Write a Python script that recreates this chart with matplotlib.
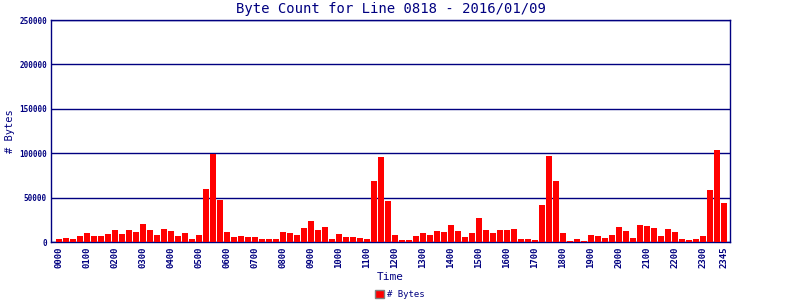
import matplotlib
matplotlib.use("Agg")
import matplotlib.pyplot as plt
from matplotlib.patches import Patch

times = [f"{h:02d}{m:02d}" for h in range(24) for m in (0, 15, 30, 45)]
byte_counts = [
    3300, 4400, 3300, 6700, 10000, 6700, 6700, 8900, 13300, 8900,
    13300, 11100, 20000, 13300, 7800, 14400, 12200, 6700, 10000, 3300,
    7800, 60000, 99000, 47800, 11100, 5600, 6700, 5600, 5600, 3300,
    3300, 3300, 11100, 10000, 7800, 15500, 23300, 13300, 16700, 3300,
    8900, 5600, 5600, 4400, 3300, 68800, 95500, 46700, 7800, 2200,
    2200, 6700, 10000, 7800, 12200, 11100, 18900, 12200, 5600, 10000,
    26600, 13300, 10000, 13300, 13300, 14400, 3300, 3300, 2200, 42200,
    96600, 68800, 10000, 1100, 3300, 1100, 7800, 6700, 4400, 7800,
    16700, 12200, 4400, 18900, 17800, 15500, 6700, 14400, 11100, 3300,
    2200, 3300, 6700, 58800, 103300, 44400,
]
tick_idx = list(range(0, 96, 4)) + [95]
tick_labels = [times[i] for i in tick_idx]
y_ticks = [0, 50000, 100000, 150000, 200000, 250000]

navy = "#000080"
mono = "DejaVu Sans Mono"

fig = plt.figure(figsize=(8, 3), dpi=100)
ax = fig.add_axes([0.064, 0.193, 0.8485, 0.74])
x = list(range(len(byte_counts)))
ax.bar(x, byte_counts, width=0.86, color="#ff0000", zorder=3)
ax.set_xlim(-1.14, 95.86)
ax.set_ylim(0, 250000)
ax.set_yticks(y_ticks)
ax.set_yticklabels([str(v) for v in y_ticks], fontsize=5.5, color=navy, family=mono, fontweight="bold")
ax.set_xticks(tick_idx)
ax.set_xticklabels(tick_labels, rotation=90, fontsize=6.5, color=navy, family=mono, fontweight="bold")
ax.tick_params(length=0, pad=3)
ax.yaxis.grid(True, color=navy, linewidth=1, zorder=1)
for s in ax.spines.values():
    s.set_color(navy)
    s.set_linewidth(1)
ax.set_title("Byte Count for Line 0818 - 2016/01/09", fontsize=10, color=navy, family=mono, pad=5)
fig.text(0.012, 0.563, "# Bytes", rotation=90, fontsize=7.5, color=navy, family=mono,
         ha="center", va="center")
ax.set_xlabel("Time", fontsize=8, color=navy, family=mono, labelpad=3)
handles = [Patch(facecolor="#ff0000", edgecolor="#808080", label="# Bytes")]
fig.legend(handles=handles, loc="lower center", bbox_to_anchor=(0.5, -0.025), frameon=False,
           prop={"family": mono, "size": 6.5}, handlelength=1.0, handleheight=1.0, handletextpad=0.3,
           labelcolor=navy)
fig.savefig("out.png", dpi=100)
